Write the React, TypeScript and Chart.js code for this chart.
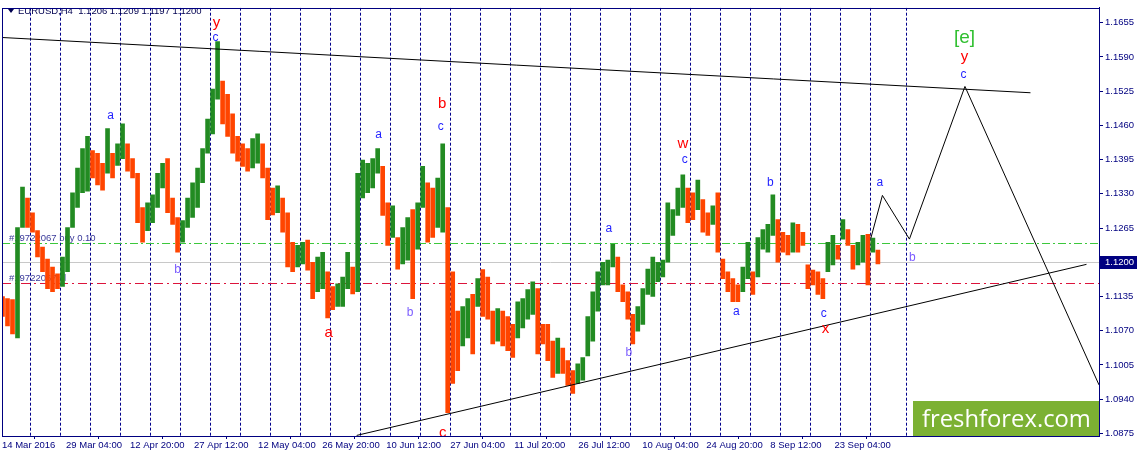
import React, { useEffect, useRef } from 'react';
import { Chart, registerables } from 'chart.js';

Chart.register(...registerables);

// header and axis text
const symbolTitle = 'EURUSD,H4  1.1206 1.1209 1.1197 1.1200';
const dateLabels = [
    '14 Mar 2016', '29 Mar 04:00', '12 Apr 20:00', '27 Apr 12:00', '12 May 04:00',
    '26 May 20:00', '10 Jun 12:00', '27 Jun 04:00', '11 Jul 20:00', '26 Jul 12:00',
    '10 Aug 04:00', '24 Aug 20:00', '8 Sep 12:00', '23 Sep 04:00'
];
// bar index (H4 bars from the left edge) of each date label
const dateBars = [0, 64, 128, 192, 256, 320, 384, 448, 512, 576, 640, 704, 768, 832];
const priceTicks = [
    1.0875, 1.0940, 1.1005, 1.1070, 1.1135, 1.1200, 1.1265,
    1.1330, 1.1395, 1.1460, 1.1525, 1.1590, 1.1655
];

// price history, one entry per 5 H4 bars
const barStep = 5;
const highs = [
    1.1135, 1.1131, 1.1129, 1.1266, 1.1343, 1.1322, 1.1294, 1.1260, 1.1229, 1.1206,
    1.1191, 1.1178, 1.1210, 1.1266, 1.1332, 1.1379, 1.1416, 1.1439, 1.1412, 1.1407,
    1.1388, 1.1454, 1.1407, 1.1425, 1.1463, 1.1425, 1.1397, 1.1369, 1.1304, 1.1313,
    1.1328, 1.1369, 1.1388, 1.1397, 1.1322, 1.1285, 1.1279, 1.1322, 1.1351, 1.1379,
    1.1416, 1.1472, 1.1529, 1.1619, 1.1544, 1.1519, 1.1482, 1.1439, 1.1425, 1.1416,
    1.1435, 1.1444, 1.1425, 1.1379, 1.1341, 1.1345, 1.1322, 1.1294, 1.1238, 1.1232,
    1.1238, 1.1242, 1.1200, 1.1210, 1.1219, 1.1182, 1.1154, 1.1159, 1.1172, 1.1219,
    1.1191, 1.1369, 1.1394, 1.1388, 1.1397, 1.1416, 1.1382, 1.1313, 1.1307, 1.1247,
    1.1266, 1.1285, 1.1300, 1.1313, 1.1382, 1.1351, 1.1341, 1.1360, 1.1425, 1.1304,
    1.1182, 1.1107, 1.1116, 1.1131, 1.1139, 1.1169, 1.1186, 1.1172, 1.1107, 1.1112,
    1.1107, 1.1097, 1.1082, 1.1125, 1.1131, 1.1148, 1.1163, 1.1150, 1.1082, 1.1082,
    1.1050, 1.1056, 1.1037, 1.1013, 1.0994, 1.1007, 1.1019, 1.1097, 1.1144, 1.1182,
    1.1200, 1.1204, 1.1234, 1.1210, 1.1157, 1.1144, 1.1101, 1.1116, 1.1150, 1.1187,
    1.1210, 1.1200, 1.1204, 1.1313, 1.1300, 1.1341, 1.1366, 1.1341, 1.1332, 1.1356,
    1.1319, 1.1294, 1.1307, 1.1332, 1.1206, 1.1182, 1.1169, 1.1157, 1.1191, 1.1238,
    1.1182, 1.1247, 1.1262, 1.1272, 1.1328, 1.1281, 1.1257, 1.1251, 1.1275, 1.1272,
    1.1257, 1.1195, 1.1185, 1.1182, 1.1169, 1.1238, 1.1251, 1.1232, 1.1281, 1.1262,
    1.1232, 1.1238, 1.1251, 1.1253, 1.1246, 1.1223
];
const lows = [
    1.1097, 1.1079, 1.1064, 1.1056, 1.1266, 1.1266, 1.1257, 1.1210, 1.1182, 1.1150,
    1.1144, 1.1150, 1.1154, 1.1182, 1.1266, 1.1304, 1.1332, 1.1335, 1.1360, 1.1347,
    1.1337, 1.1369, 1.1360, 1.1384, 1.1397, 1.1373, 1.1360, 1.1275, 1.1238, 1.1260,
    1.1275, 1.1304, 1.1341, 1.1294, 1.1272, 1.1219, 1.1238, 1.1266, 1.1285, 1.1304,
    1.1351, 1.1407, 1.1444, 1.1510, 1.1463, 1.1439, 1.1407, 1.1392, 1.1382, 1.1373,
    1.1379, 1.1388, 1.1360, 1.1281, 1.1290, 1.1294, 1.1257, 1.1191, 1.1182, 1.1191,
    1.1197, 1.1185, 1.1131, 1.1144, 1.1150, 1.1094, 1.1110, 1.1116, 1.1116, 1.1150,
    1.1140, 1.1144, 1.1322, 1.1332, 1.1341, 1.1369, 1.1289, 1.1232, 1.1247, 1.1187,
    1.1197, 1.1204, 1.1131, 1.1225, 1.1304, 1.1238, 1.1247, 1.1266, 1.1257, 1.0914,
    1.0970, 1.0994, 1.1041, 1.1056, 1.1026, 1.1116, 1.1097, 1.1092, 1.1045, 1.1050,
    1.1041, 1.1032, 1.1019, 1.1056, 1.1075, 1.1092, 1.1101, 1.1026, 1.1045, 1.1013,
    1.0981, 1.0989, 1.0989, 1.0966, 1.0951, 1.0970, 1.0976, 1.1022, 1.1050, 1.1107,
    1.1157, 1.1157, 1.1191, 1.1144, 1.1125, 1.1092, 1.1045, 1.1069, 1.1082, 1.1139,
    1.1135, 1.1163, 1.1172, 1.1200, 1.1251, 1.1289, 1.1304, 1.1275, 1.1281, 1.1300,
    1.1257, 1.1251, 1.1272, 1.1219, 1.1169, 1.1144, 1.1125, 1.1125, 1.1144, 1.1169,
    1.1139, 1.1172, 1.1225, 1.1219, 1.1251, 1.1200, 1.1219, 1.1214, 1.1219, 1.1219,
    1.1232, 1.1150, 1.1157, 1.1139, 1.1131, 1.1182, 1.1195, 1.1206, 1.1244, 1.1232,
    1.1187, 1.1195, 1.1200, 1.1157, 1.1219, 1.1197
];

// drawn objects (x in H4 bars, y in price)
const upperTrend = [{ x: 0, y: 1.1627 }, { x: 1028, y: 1.1522 }];
const lowerTrend = [{ x: 354.5, y: 1.0871 }, { x: 1084, y: 1.1196 }];
const forecastPath = [
    { x: 868.5, y: 1.1246 }, { x: 880, y: 1.1327 }, { x: 907, y: 1.1244 },
    { x: 962.5, y: 1.1534 }, { x: 1096.5, y: 1.0967 }
];
const lastPrice = 1.1200;
const buyPrice = 1.1237;
const stopPrice = 1.1161;
const orderTexts = ['#19722067 buy 0.10', '#19722067 sl'];

type Wave = { text: string; bar: number; price: number; kind: 'minor' | 'minorB' | 'major' | 'cycle' };
const waveLabels: Wave[] = [
    { text: 'y', bar: 214.5, price: 1.1654, kind: 'major' },
    { text: 'c', bar: 213.5, price: 1.1626, kind: 'minor' },
    { text: 'a', bar: 108.5, price: 1.1478, kind: 'minor' },
    { text: 'b', bar: 175.5, price: 1.1186, kind: 'minorB' },
    { text: 'a', bar: 376.5, price: 1.1442, kind: 'minor' },
    { text: 'a', bar: 326.5, price: 1.1066, kind: 'major' },
    { text: 'b', bar: 408, price: 1.1104, kind: 'minorB' },
    { text: 'b', bar: 440, price: 1.1500, kind: 'major' },
    { text: 'c', bar: 438.5, price: 1.1457, kind: 'minor' },
    { text: 'c', bar: 440.5, price: 1.0876, kind: 'major' },
    { text: 'a', bar: 606.5, price: 1.1264, kind: 'minor' },
    { text: 'b', bar: 626.5, price: 1.1029, kind: 'minorB' },
    { text: 'w', bar: 680.5, price: 1.1425, kind: 'major' },
    { text: 'c', bar: 682.5, price: 1.1394, kind: 'minor' },
    { text: 'a', bar: 734, price: 1.1107, kind: 'minor' },
    { text: 'b', bar: 768, price: 1.1352, kind: 'minor' },
    { text: 'c', bar: 821.5, price: 1.1102, kind: 'minor' },
    { text: 'x', bar: 823, price: 1.1074, kind: 'major' },
    { text: 'a', bar: 877.5, price: 1.1352, kind: 'minor' },
    { text: 'b', bar: 910, price: 1.1208, kind: 'minorB' },
    { text: 'c', bar: 961, price: 1.1557, kind: 'minor' },
    { text: 'y', bar: 962, price: 1.1591, kind: 'major' },
    { text: '[e]', bar: 962, price: 1.1626, kind: 'cycle' }
];

const NAVY = '#000080';
const AXIS_FONT = '"Liberation Sans", Arial, sans-serif';
const waveStyle: Record<string, { color: string; font: string }> = {
    minor: { color: '#1f1fff', font: '12px ' + AXIS_FONT },
    minorB: { color: '#7b5cff', font: '12px ' + AXIS_FONT },
    major: { color: '#ff0000', font: '15px ' + AXIS_FONT },
    cycle: { color: '#2fbf2f', font: '19px ' + AXIS_FONT }
};

const overlay = {
    id: 'overlay',
    beforeDatasetsDraw(chart: any) {
        const { ctx, chartArea: a, scales } = chart;
        const x = scales.x;
        const y = scales.y;
        ctx.save();
        ctx.beginPath();
        ctx.rect(a.left, a.top, a.right - a.left, a.bottom - a.top);
        ctx.clip();

        // weekly separators
        ctx.strokeStyle = '#00008b';
        ctx.lineWidth = 1;
        ctx.setLineDash([3, 2]);
        const seps: number[] = [];
        for (let b = 28; b <= 868; b += 30) seps.push(b);
        seps.push(904);
        seps.forEach((b) => {
            const px = Math.round(x.getPixelForValue(b)) + 0.5;
            ctx.beginPath();
            ctx.moveTo(px, a.top);
            ctx.lineTo(px, a.bottom);
            ctx.stroke();
        });

        const hLine = (price: number, color: string, dash: number[]) => {
            const py = Math.round(y.getPixelForValue(price)) + 0.5;
            ctx.strokeStyle = color;
            ctx.setLineDash(dash);
            ctx.beginPath();
            ctx.moveTo(a.left, py);
            ctx.lineTo(a.right, py);
            ctx.stroke();
        };
        hLine(lastPrice, '#c8c8c8', []);
        hLine(buyPrice, '#3cc83c', [8, 3, 2, 3]);
        hLine(stopPrice, '#dc143c', [9, 4, 2, 4]);

        ctx.setLineDash([]);
        ctx.font = '9.5px ' + AXIS_FONT;
        ctx.fillStyle = '#3a3a9a';
        ctx.textBaseline = 'alphabetic';
        ctx.textAlign = 'left';
        ctx.fillText(orderTexts[0], a.left + 7, y.getPixelForValue(buyPrice) - 2);
        ctx.fillText(orderTexts[1], a.left + 7, y.getPixelForValue(stopPrice) - 2);
        ctx.restore();
    },
    afterDatasetsDraw(chart: any) {
        const { ctx, chartArea: a, scales } = chart;
        const x = scales.x;
        const y = scales.y;
        ctx.save();
        ctx.beginPath();
        ctx.rect(a.left, a.top, a.right - a.left, a.bottom - a.top);
        ctx.clip();

        // wave counts
        ctx.textAlign = 'center';
        ctx.textBaseline = 'middle';
        waveLabels.forEach((w) => {
            const st = waveStyle[w.kind];
            ctx.font = st.font;
            ctx.fillStyle = st.color;
            ctx.fillText(w.text, x.getPixelForValue(w.bar), y.getPixelForValue(w.price));
        });

        // header
        ctx.fillStyle = '#000050';
        ctx.beginPath();
        ctx.moveTo(8, 9);
        ctx.lineTo(14, 9);
        ctx.lineTo(11, 13);
        ctx.closePath();
        ctx.fill();
        ctx.font = '9.5px ' + AXIS_FONT;
        ctx.textAlign = 'left';
        ctx.textBaseline = 'middle';
        ctx.fillText(symbolTitle, 18, 11);

        // broker logo
        ctx.fillStyle = '#7cb133';
        ctx.fillRect(913, 401, a.right - 913, a.bottom - 401);
        ctx.fillStyle = '#ffffff';
        let size = 24;
        ctx.font = size + 'px "Open Sans", sans-serif';
        const wText = ctx.measureText('freshforex.com').width;
        size = size * 169 / wText;
        ctx.font = size + 'px "Open Sans", sans-serif';
        ctx.textBaseline = 'alphabetic';
        ctx.fillText('freshforex.com', 922, 427);
        ctx.restore();

        // frame
        ctx.save();
        ctx.strokeStyle = NAVY;
        ctx.lineWidth = 1;
        ctx.strokeRect(Math.round(a.left) + 0.5, Math.round(a.top) + 0.5,
            Math.round(a.right - a.left), Math.round(a.bottom - a.top));

        // current price marker on the axis
        const py = Math.round(y.getPixelForValue(lastPrice));
        ctx.fillStyle = NAVY;
        ctx.fillRect(a.right + 1, py - 6, 37, 13);
        ctx.fillStyle = '#ffffff';
        ctx.font = '9.5px ' + AXIS_FONT;
        ctx.textAlign = 'left';
        ctx.textBaseline = 'middle';
        ctx.fillText(lastPrice.toFixed(4), a.right + 6, py + 0.5);
        ctx.restore();
    }
};

const App: React.FC = () => {
    const canvasRef = useRef<HTMLCanvasElement>(null);
    const chartRef = useRef<Chart | null>(null);

    useEffect(() => {
        document.body.style.margin = '0';
        const ctx = canvasRef.current?.getContext('2d');
        if (!ctx) return;

        const candles = highs.map((h, i) => ({ x: i * barStep + 0.5, y: [lows[i], h] }));
        const colors = highs.map((h, i) => {
            if (i === 0) return '#ff4500';
            const mid = (h + lows[i]) / 2;
            const prev = (highs[i - 1] + lows[i - 1]) / 2;
            return mid >= prev ? '#228b22' : '#ff4500';
        });
        const line = (data: { x: number; y: number }[]) => ({
            type: 'line' as const,
            data,
            borderColor: '#000000',
            borderWidth: 1,
            pointRadius: 0,
            fill: false,
            tension: 0,
            order: 1
        });

        chartRef.current = new Chart(ctx, {
            type: 'bar',
            data: {
                datasets: [
                    {
                        type: 'bar',
                        data: candles as any,
                        backgroundColor: colors,
                        barThickness: 4,
                        grouped: false,
                        order: 2
                    } as any,
                    line(upperTrend),
                    line(lowerTrend),
                    line(forecastPath)
                ]
            },
            options: {
                animation: false,
                responsive: false,
                maintainAspectRatio: false,
                layout: { padding: { top: 2, left: 2, right: 0, bottom: 0 } },
                plugins: { legend: { display: false }, tooltip: { enabled: false } },
                scales: {
                    x: {
                        type: 'linear',
                        min: 0,
                        max: 1096.5,
                        offset: false,
                        grid: { drawOnChartArea: false, color: NAVY, tickLength: 3 },
                        border: { color: NAVY },
                        ticks: {
                            autoSkip: false,
                            maxRotation: 0,
                            minRotation: 0,
                            align: 'start',
                            padding: 1,
                            color: NAVY,
                            font: { family: AXIS_FONT, size: 9.5 },
                            callback: (_v: any, i: number) => dateLabels[i]
                        },
                        afterBuildTicks: (s: any) => { s.ticks = dateBars.map((v) => ({ value: v })); },
                        afterFit: (s: any) => { s.height = 21; }
                    },
                    y: {
                        type: 'linear',
                        position: 'right',
                        min: 1.08699,
                        max: 1.16836,
                        grid: { drawOnChartArea: false, color: NAVY, tickLength: 4 },
                        border: { color: NAVY },
                        ticks: {
                            padding: 2,
                            color: NAVY,
                            font: { family: AXIS_FONT, size: 9.5 },
                            callback: (v: any) => Number(v).toFixed(4)
                        },
                        afterBuildTicks: (s: any) => { s.ticks = priceTicks.map((v) => ({ value: v })); },
                        afterFit: (s: any) => { s.width = 40; }
                    }
                }
            } as any,
            plugins: [overlay]
        });

        return () => {
            if (chartRef.current) {
                chartRef.current.destroy();
                chartRef.current = null;
            }
        };
    }, []);

    return (
        <div style={{ width: 1139, height: 457, background: '#ffffff' }}>
            <canvas ref={canvasRef} width={1139} height={457} />
        </div>
    );
};

export default App;
